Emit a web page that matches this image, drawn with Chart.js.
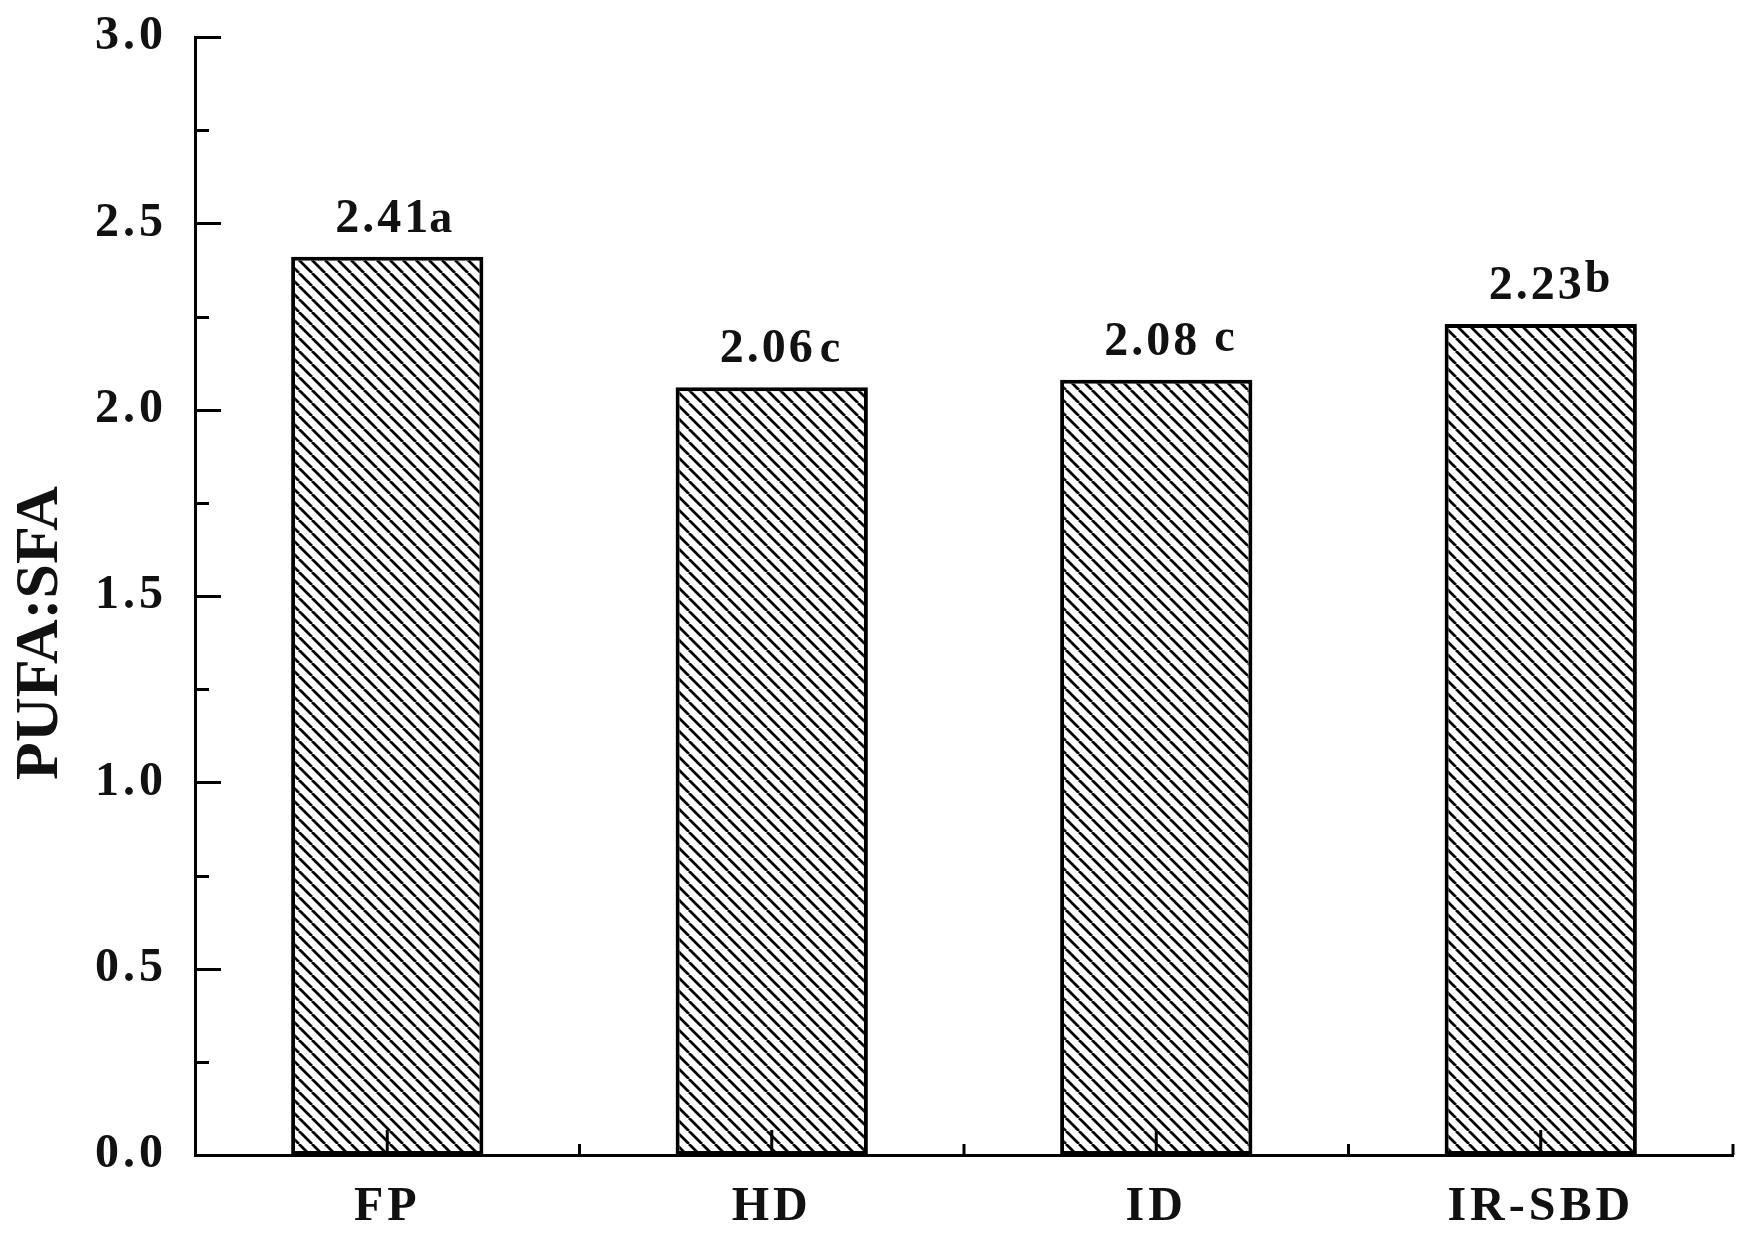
<!DOCTYPE html>
<html>
<head>
<meta charset="utf-8">
<script src="https://cdn.jsdelivr.net/npm/chart.js@4.4.0/dist/chart.umd.min.js"></script>
<style>
  html, body { margin: 0; padding: 0; background: #fff; }
  #wrap { width: 1747px; height: 1239px; }
</style>
</head>
<body>
<div id="wrap"><canvas id="chartdispArea" width="1747" height="1239"></canvas></div>
<script>
// data
var categories = ['FP', 'HD', 'ID', 'IR-SBD'];
var ratios = [2.41, 2.06, 2.08, 2.23];
var letters = ['a', 'c', 'c', 'b'];
var yTitle = 'PUFA:SFA';
var yMin = 0, yMax = 3, yStep = 0.5;

var serif = '"Liberation Serif", "Times New Roman", serif';

// hatch pattern "\\\\"
function makeHatch() {
    var s = 13;
    var c = document.createElement('canvas');
    c.width = s; c.height = s;
    var g = c.getContext('2d');
    g.fillStyle = '#fff';
    g.fillRect(0, 0, s, s);
    g.strokeStyle = '#000';
    g.lineWidth = 2.8;
    g.beginPath();
    for (var k = -s; k <= s; k += s) {
        g.moveTo(k, 0);
        g.lineTo(k + s, s);
    }
    g.stroke();
    return g.createPattern(c, 'repeat');
}

var spacing = {
    id: 'spacing',
    beforeLayout: function(chart) { chart.ctx.letterSpacing = '4px'; },
    beforeDraw: function(chart) { chart.ctx.letterSpacing = '4px'; }
};

// inward tick marks, drawn over the bars
var inTicks = {
    id: 'inTicks',
    afterDraw: function(chart) {
        var ctx = chart.ctx;
        var x = chart.scales.x, y = chart.scales.y;
        ctx.save();
        ctx.strokeStyle = '#000';
        ctx.lineWidth = 3;
        ctx.beginPath();
        for (var v = yMin; v <= yMax + 1e-9; v += yStep / 2) {
            var py = Math.round(y.getPixelForValue(v)) + 0.5;
            var major = Math.abs(v / yStep - Math.round(v / yStep)) < 1e-6;
            ctx.moveTo(x.left, py);
            ctx.lineTo(x.left + (major ? 26 : 14), py);
        }
        var w = x.width / categories.length;
        for (var i = 0; i < categories.length; i++) {
            var px = x.getPixelForValue(i);
            ctx.moveTo(px, y.bottom);
            ctx.lineTo(px, y.bottom - 25);
        }
        for (var k = 1; k <= categories.length; k++) {
            var bx = x.left + k * w;
            ctx.moveTo(bx, y.bottom);
            ctx.lineTo(bx, y.bottom - 11);
        }
        ctx.stroke();

        // y title, a bit below the middle of the axis like the original
        ctx.letterSpacing = '0px';
        ctx.translate(41, (y.top + y.bottom) / 2 + 37);
        ctx.rotate(-Math.PI / 2);
        ctx.font = 'bold 62px ' + serif;
        ctx.fillStyle = '#111';
        ctx.textAlign = 'center';
        ctx.textBaseline = 'middle';
        ctx.fillText(yTitle, 0, 0);
        ctx.restore();
    }
};

// value + significance letter above each bar
var valueLabels = {
    id: 'valueLabels',
    afterDatasetsDraw: function(chart) {
        var ctx = chart.ctx;
        var bars = chart.getDatasetMeta(0).data;
        var raise = [0, 0, 4, 7];
        var gap = [-2, 4, 14, 0];
        ctx.save();
        ctx.fillStyle = '#111';
        ctx.textBaseline = 'alphabetic';
        ctx.letterSpacing = '3px';
        bars.forEach(function(bar, i) {
            var txt = ratios[i].toFixed(2);
            var base = bar.y - 25;
            ctx.font = 'bold 48px ' + serif;
            ctx.textAlign = 'center';
            ctx.fillText(txt, bar.x - 4, base);
            var wd = ctx.measureText(txt).width;
            ctx.textAlign = 'left';
            ctx.font = 'bold 46px ' + serif;
            ctx.fillText(letters[i], bar.x - 4 + wd / 2 + gap[i], base - raise[i]);
        });
        ctx.restore();
    }
};

var ctx = document.getElementById('chartdispArea').getContext('2d');

var myBarChart = new Chart(ctx, {
    type: 'bar',
    data: {
        labels: categories,
        datasets: [{
            data: ratios,
            backgroundColor: makeHatch(),
            borderColor: '#000',
            borderWidth: 4,
            borderSkipped: false,
            barPercentage: 0.5,
            categoryPercentage: 1.0
        }]
    },
    options: {
        responsive: false,
        animation: false,
        layout: { padding: { left: 0, right: 14, top: 37, bottom: 0 } },
        plugins: {
            legend: { display: false },
            tooltip: { enabled: false }
        },
        scales: {
            x: {
                grid: { display: false, drawTicks: false },
                border: { display: true, color: '#000', width: 3 },
                ticks: {
                    color: '#111',
                    padding: 24,
                    font: { family: serif, size: 48, weight: 'bold' }
                },
                afterFit: function(scale) { scale.height = 84; }
            },
            y: {
                min: yMin,
                max: yMax,
                grid: { display: false, drawTicks: false },
                border: { display: true, color: '#000', width: 3 },
                ticks: {
                    stepSize: yStep,
                    color: '#111',
                    padding: 28,
                    font: { family: serif, size: 48, weight: 'bold' },
                    callback: function(v) { return v.toFixed(1); }
                },
                afterFit: function(scale) {
                    scale.width = 195;
                    scale.paddingTop = 0;
                    scale.paddingBottom = 0;
                }
            }
        }
    },
    plugins: [spacing, inTicks, valueLabels]
});
</script>
</body>
</html>
